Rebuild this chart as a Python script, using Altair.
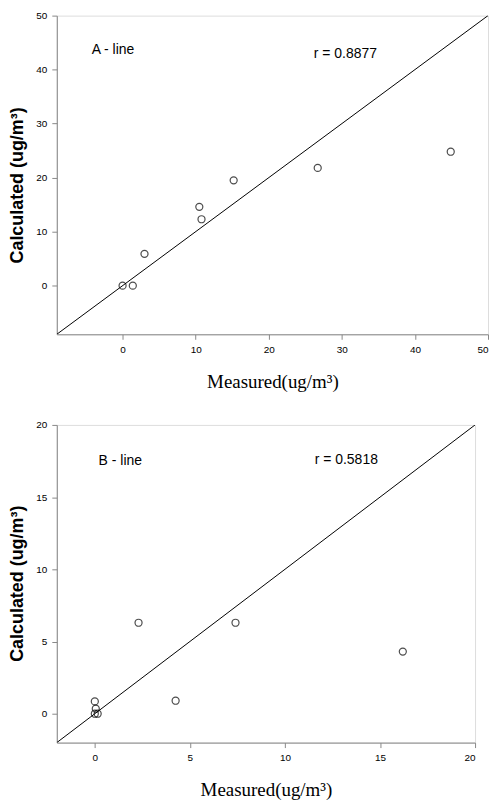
import altair as alt
import pandas as pd

# Panel A data
a_measured = [0.0, 1.4, 3.0, 10.5, 10.8, 15.2, 26.7, 44.9]
a_calculated = [0.0, 0.0, 5.9, 14.6, 12.3, 19.5, 21.8, 24.8]
a_line = [-9, 50]
a_ticks = [0, 10, 20, 30, 40, 50]

# Panel B data
b_measured = [0.0, 0.05, 0.0, 0.15, 2.3, 4.25, 7.4, 16.2]
b_calculated = [0.85, 0.35, 0.0, 0.0, 6.3, 0.9, 6.3, 4.3]
b_line = [-2, 20]
b_ticks = [0, 5, 10, 15, 20]

a_label = "A - line"
a_r = "r = 0.8877"
b_label = "B - line"
b_r = "r = 0.5818"

x_title = "Measured(ug/m³)"
y_title = "Calculated (ug/m³)"


def panel(mx, cy, line, ticks, label, rtext, w, h, label_pos, r_pos, ytitle_y):
    dom = [line[0], line[1]]
    pts = pd.DataFrame({"m": mx, "c": cy})
    ln = pd.DataFrame({"m": line, "c": line})
    xsc = alt.Scale(domain=dom, nice=False, zero=False)
    ysc = alt.Scale(domain=dom, nice=False, zero=False)
    xax = alt.Axis(values=ticks, title=x_title, grid=False, titleFont="Liberation Serif",
                   titleFontSize=19, titleFontWeight="normal", titlePadding=18,
                   labelPadding=5, format="d")
    yax = alt.Axis(values=ticks, title=y_title, grid=False, titleFont="Liberation Sans",
                   titleFontSize=18, titleFontWeight="bold", titlePadding=9,
                   labelPadding=5, format="d", titleY=ytitle_y)
    line_layer = alt.Chart(ln).mark_line(color="black", strokeWidth=1, clip=True).encode(
        x=alt.X("m:Q", scale=xsc, axis=xax),
        y=alt.Y("c:Q", scale=ysc, axis=yax),
    )
    pt_layer = alt.Chart(pts).mark_point(shape="circle", filled=False, size=50,
                                          color="black", strokeWidth=1.2).encode(
        x=alt.X("m:Q", scale=xsc),
        y=alt.Y("c:Q", scale=ysc),
    )
    t1 = alt.Chart(pd.DataFrame({"t": [label]})).mark_text(
        align="left", baseline="middle", font="Liberation Sans", fontSize=14, color="black"
    ).encode(x=alt.value(label_pos[0]), y=alt.value(label_pos[1]), text="t:N")
    t2 = alt.Chart(pd.DataFrame({"t": [rtext]})).mark_text(
        align="left", baseline="middle", font="Liberation Sans", fontSize=14, color="black"
    ).encode(x=alt.value(r_pos[0]), y=alt.value(r_pos[1]), text="t:N")
    return alt.layer(line_layer, pt_layer, t1, t2).properties(width=w, height=h)


top = panel(a_measured, a_calculated, a_line, a_ticks, a_label, a_r, 433, 320,
            (35, 35), (258, 39), 170)
bottom = panel(b_measured, b_calculated, b_line, b_ticks, b_label, b_r, 420, 319,
               (42, 36), (259, 35), 159)

chart = alt.vconcat(top, bottom, spacing=27).configure_view(
    stroke="black", strokeWidth=1.5
).configure_axis(
    labelFont="Liberation Sans", labelFontSize=11.5, labelFontWeight="bold",
    labelColor="black", tickColor="black", domainColor="black", tickSize=5,
    titleColor="black",
).configure(background="white", padding=0)

chart.save("out.html", embed_options={"renderer": "svg", "actions": False})
